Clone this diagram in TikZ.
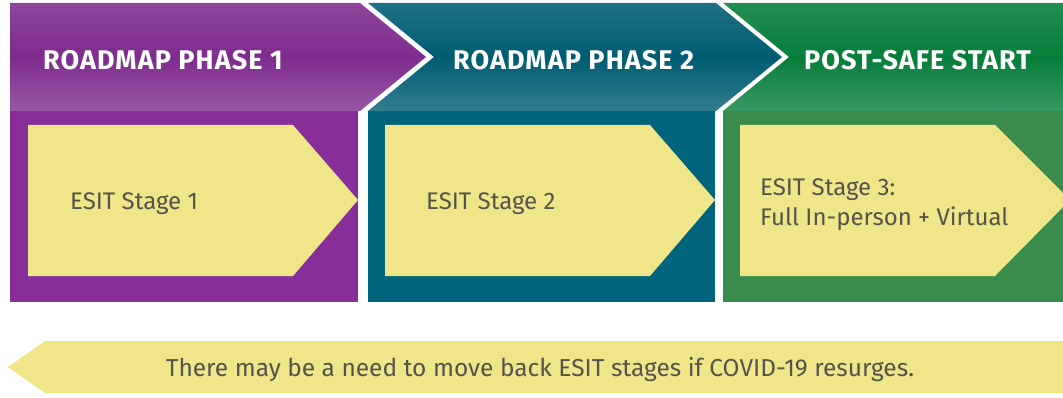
\documentclass[tikz,border=0pt]{standalone}
\usepackage{fontspec}
\setmainfont{Fira Sans}
\usepackage{tikz}
\usetikzlibrary{positioning, calc}

\definecolor{phaseone}{RGB}{126,44,141}
\definecolor{phaseonebody}{RGB}{136,46,152}
\definecolor{phasetwo}{RGB}{0,92,114}
\definecolor{phasetwobody}{RGB}{0,100,124}
\definecolor{phasethree}{RGB}{6,126,58}
\definecolor{phasethreebody}{RGB}{58,140,76}
\definecolor{stageyellow}{RGB}{239,230,138}
\definecolor{stagetext}{RGB}{84,84,76}

\begin{document}
\begin{tikzpicture}[
    x=1pt, y=-1pt,
    head/.style={top color=#1!88!white, bottom color=#1!80!white, middle color=#1},
    headtext/.style={anchor=west, text=white, inner sep=0pt,
                     font=\fontsize{27}{30}\selectfont\bfseries\addfontfeature{LetterSpace=4}},
    stagebox/.style={fill=stageyellow},
    stagetext/.style={anchor=west, text=stagetext, align=left, inner sep=0pt,
                      font=\fontsize{24}{30}\selectfont}
]
\useasboundingbox (0,0) rectangle (1063,398);

% phase headers (chevrons)
\shade[head=phaseone] (10,3) -- (360,3) -- (426,57) -- (360,111) -- (10,111) -- cycle;
\shade[head=phasetwo] (368,3) -- (716,3) -- (782,57) -- (716,111) -- (368,111) -- (434,57) -- cycle;
\shade[head=phasethree] (723,3) -- (1063,3) -- (1063,111) -- (723,111) -- (789,57) -- cycle;

% phase bodies
\fill[phaseonebody] (10,111) rectangle (358,302);
\fill[phasetwobody] (368,111) rectangle (715,302);
\fill[phasethreebody] (723,111) rectangle (1063,302);

% ESIT stages
\fill[stagebox] (28,125) -- (293,125) -- (358,200) -- (293,276) -- (28,276) -- cycle;
\fill[stagebox] (385,125) -- (650,125) -- (715,200) -- (650,276) -- (385,276) -- cycle;
\fill[stagebox] (740,125) -- (995,125) -- (1070,200) -- (995,276) -- (740,276) -- cycle;

% move-back arrow
\fill[stagebox] (45,341) -- (1063,341) -- (1063,393) -- (45,393) -- (8,367) -- cycle;

\node[headtext] (ph1) at (43,60) {ROADMAP PHASE 1};
\node[headtext] (ph2) at (453,60) {ROADMAP PHASE 2};
\node[headtext] (ph3) at (804,60) {POST-SAFE START};

\node[stagetext] (st1) at (70,204) {ESIT Stage 1};
\node[stagetext] (st2) at (426,204) {ESIT Stage 2};
\node[stagetext] (st3) at (760,205) {ESIT Stage 3:\\Full In-person + Virtual};

\node[stagetext, anchor=center, font=\fontsize{24.5}{30}\selectfont] (back) at (540,370) {There may be a need to move back ESIT stages if COVID-19 resurges.};
\end{tikzpicture}
\end{document}
